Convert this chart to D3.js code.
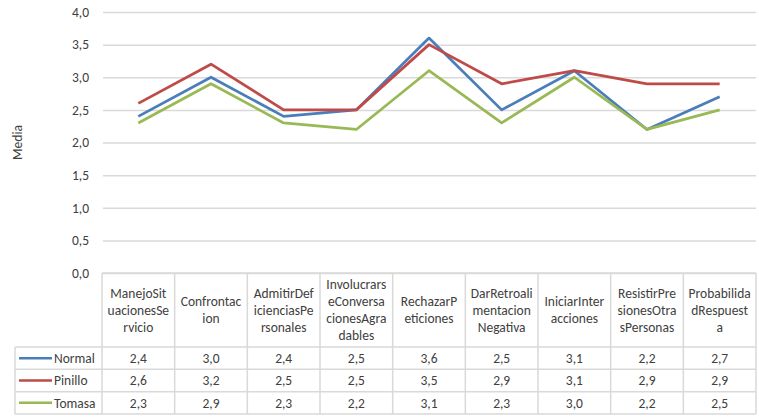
<!DOCTYPE html>
<html>
<head>
<meta charset="utf-8">
<script src="https://cdn.jsdelivr.net/npm/d3@7"></script>
<style>
  html, body { margin: 0; padding: 0; background: #fff; }
  svg { display: block; }
  text { font-family: Calibri, Carlito, Lato, "Open Sans", sans-serif; fill: #404040; }
</style>
</head>
<body>
<svg id="chart" width="759" height="419"></svg>
<script>
// Mean scores per situation, by group
const categories = [
  "ManejoSituacionesServicio", "Confrontacion", "AdmitirDeficienciasPersonales",
  "InvolucrarseConversacionesAgradables", "RechazarPeticiones",
  "DarRetroalimentacionNegativa", "IniciarInteracciones",
  "ResistirPresionesOtrasPersonas", "ProbabilidadRespuesta"
];
// Wrapped header lines for the data table
const categoryLines = [
  ["ManejoSit", "uacionesSe", "rvicio"],
  ["Confrontac", "ion"],
  ["AdmitirDef", "icienciasPe", "rsonales"],
  ["Involucrars", "eConversa", "cionesAgra", "dables"],
  ["RechazarP", "eticiones"],
  ["DarRetroali", "mentacion", "Negativa"],
  ["IniciarInter", "acciones"],
  ["ResistirPre", "sionesOtra", "sPersonas"],
  ["Probabilida", "dRespuest", "a"]
];
const seriesNames = ["Normal", "Pinillo", "Tomasa"];
const normal  = [2.4, 3.0, 2.4, 2.5, 3.6, 2.5, 3.1, 2.2, 2.7];
const pinillo = [2.6, 3.2, 2.5, 2.5, 3.5, 2.9, 3.1, 2.9, 2.9];
const tomasa  = [2.3, 2.9, 2.3, 2.2, 3.1, 2.3, 3.0, 2.2, 2.5];
const yTicks = [0, 0.5, 1.0, 1.5, 2.0, 2.5, 3.0, 3.5, 4.0];
const yTitle = "Media";

const seriesValues = [normal, pinillo, tomasa];
const colors = ["#4a7ebb", "#be4b48", "#98b954"];

const svg = d3.select("#chart");
const locale = d3.formatLocale({ decimal: ",", thousands: ".", grouping: [3], currency: ["", " €"] });
const fmt = locale.format(".1f");

const plotLeft = 102, plotRight = 756, plotTop = 12, plotBase = 273;
const legendLeft = 15;
const tableBottom = 414;
const x = d3.scaleBand().domain(categories).range([plotLeft, plotRight]);
const y = d3.scaleLinear().domain([0, 4]).range([plotBase, plotTop]);

// Gridlines and y tick labels
const yAxis = d3.axisLeft(y)
  .tickValues(yTicks)
  .tickSize(-(plotRight - plotLeft - 1))
  .tickPadding(14)
  .tickFormat(fmt);
const gy = svg.append("g").attr("transform", `translate(${plotLeft + 1},0)`).call(yAxis);
gy.select(".domain").remove();
gy.selectAll(".tick line").attr("stroke", "#d9d9d9").attr("stroke-width", 1.5);
gy.selectAll(".tick text")
  .style("font-size", "13.5px")
  .attr("fill", "#595959")
  .attr("dy", "0.32em");

// Axis title
svg.append("text")
  .attr("transform", `translate(22,${(plotTop + plotBase) / 2}) rotate(-90)`)
  .attr("text-anchor", "middle")
  .style("font-size", "13.5px")
  .attr("fill", "#595959")
  .text(yTitle);

// Data table
const headerBottom = 347;
const rows = d3.scaleBand().domain(seriesNames).range([headerBottom, tableBottom]);
const table = svg.append("g");
const border = "#d9d9d9";

// horizontal rules
table.append("line")
  .attr("x1", plotLeft).attr("x2", plotRight).attr("y1", plotBase).attr("y2", plotBase)
  .attr("stroke", border).attr("stroke-width", 1.5);
[headerBottom, ...seriesNames.map(s => rows(s) + rows.bandwidth())].forEach(yy => {
  table.append("line")
    .attr("x1", legendLeft).attr("x2", plotRight).attr("y1", yy).attr("y2", yy)
    .attr("stroke", border).attr("stroke-width", 1.5);
});
// vertical rules
table.append("line")
  .attr("x1", legendLeft).attr("x2", legendLeft).attr("y1", headerBottom).attr("y2", tableBottom)
  .attr("stroke", border).attr("stroke-width", 1.5);
[...categories.map(c => x(c)), plotRight].forEach(xx => {
  table.append("line")
    .attr("x1", xx).attr("x2", xx).attr("y1", plotBase).attr("y2", tableBottom)
    .attr("stroke", border).attr("stroke-width", 1.5);
});

// header texts
const lineH = 17;
categories.forEach((c, i) => {
  const lines = categoryLines[i];
  const cy = (plotBase + headerBottom) / 2 - (lines.length - 1) * lineH / 2;
  const t = table.append("text")
    .attr("text-anchor", "middle")
    .style("font-size", "13.5px")
    .attr("fill", "#404040");
  lines.forEach((ln, j) => {
    t.append("tspan")
      .attr("x", x(c) + x.bandwidth() / 2)
      .attr("y", cy + j * lineH)
      .attr("dy", "0.35em")
      .text(ln);
  });
});

// value cells and legend keys
seriesNames.forEach((s, si) => {
  const cy = rows(s) + rows.bandwidth() / 2;
  table.append("line")
    .attr("x1", 19).attr("x2", 52).attr("y1", cy).attr("y2", cy)
    .attr("stroke", colors[si]).attr("stroke-width", 2.5);
  table.append("text")
    .attr("x", 54).attr("y", cy).attr("dy", "0.35em")
    .attr("text-anchor", "start")
    .style("font-size", "13.5px")
    .text(s);
  categories.forEach((c, ci) => {
    table.append("text")
      .attr("x", x(c) + x.bandwidth() / 2).attr("y", cy).attr("dy", "0.35em")
      .attr("text-anchor", "middle")
      .style("font-size", "13.5px")
      .text(fmt(seriesValues[si][ci]));
  });
});

// Series lines
const line = d3.line()
  .x((d, i) => x(categories[i]) + x.bandwidth() / 2)
  .y(d => y(d));
seriesValues.forEach((vals, si) => {
  svg.append("path")
    .datum(vals)
    .attr("d", line)
    .attr("fill", "none")
    .attr("stroke", colors[si])
    .attr("stroke-width", 2.75)
    .attr("stroke-linejoin", "round");
});
</script>
</body>
</html>
